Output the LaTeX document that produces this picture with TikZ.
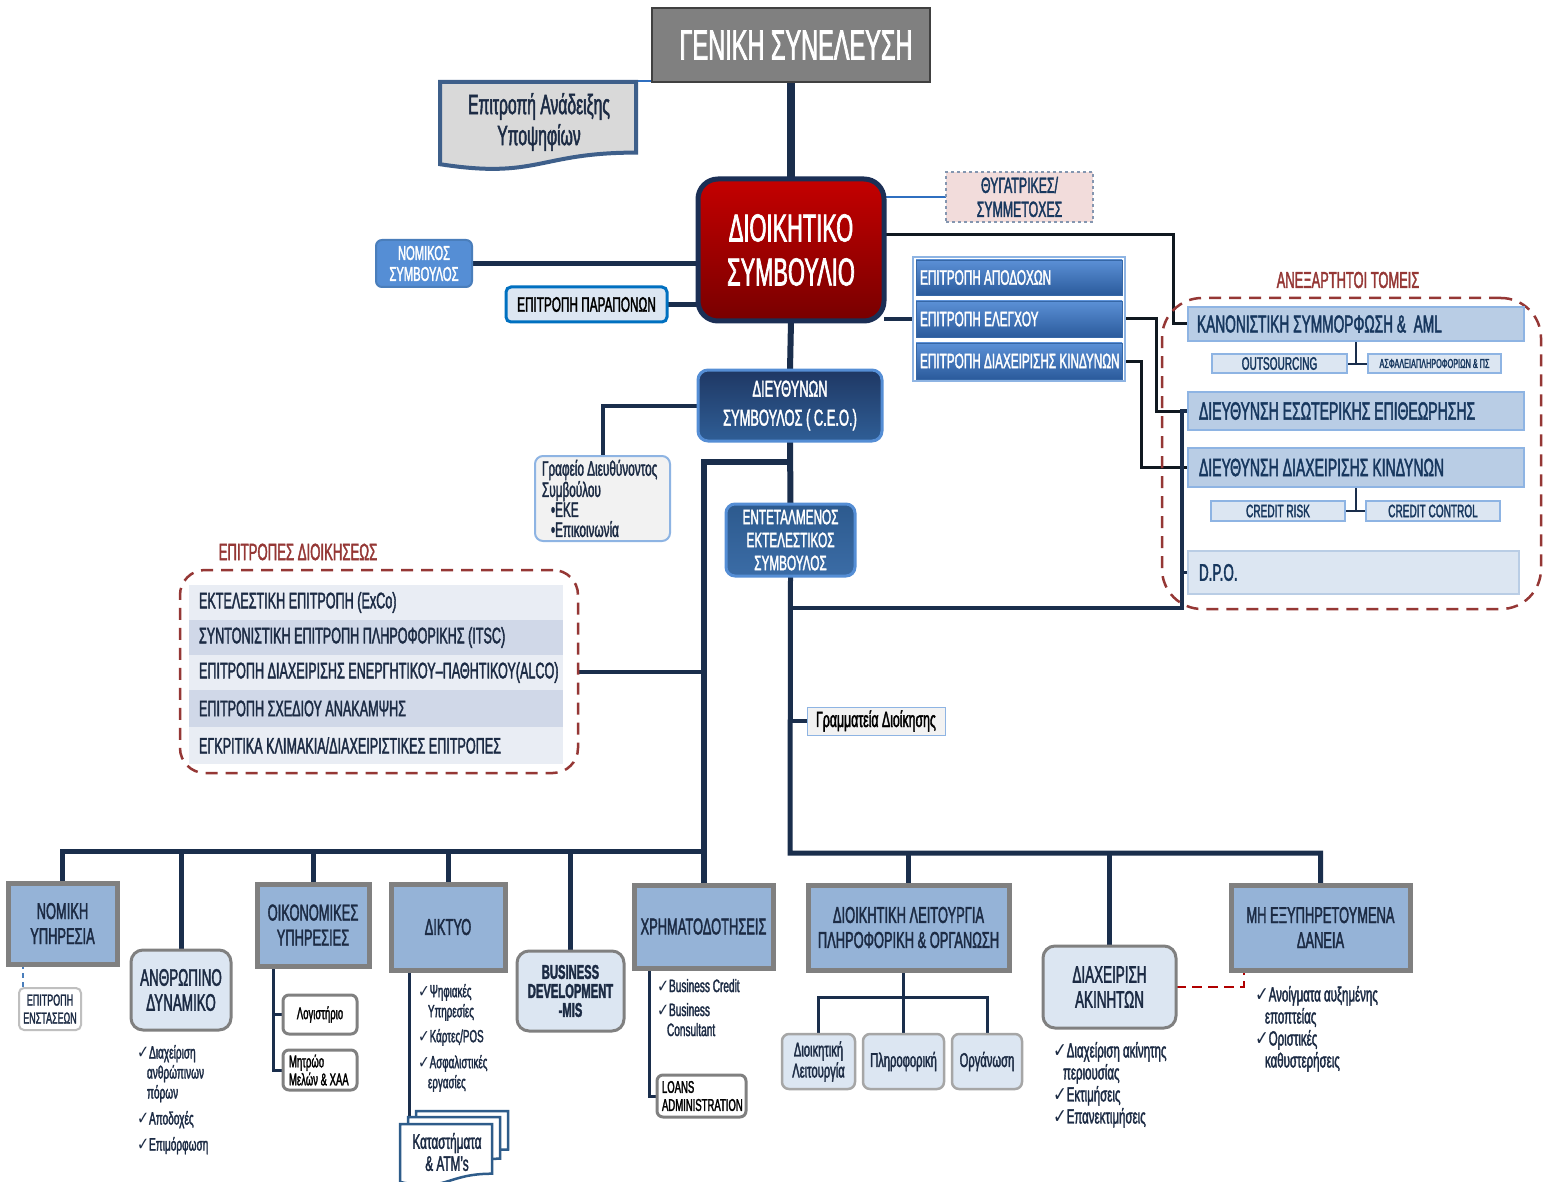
\documentclass[tikz,border=0pt]{standalone}
\usepackage{fontspec}
\setmainfont[FakeStretch=0.56, FakeBold=1.7]{Liberation Sans}
\newfontfamily\chkf[FakeStretch=0.8]{DejaVu Sans}
\usetikzlibrary{calc}
\pgfdeclarelayer{bg}
\pgfsetlayers{bg,main}
\definecolor{navy}{HTML}{1A2E4C}
\definecolor{blk}{HTML}{101820}
\definecolor{txtnavy}{HTML}{1C2B44}
\definecolor{rtext}{HTML}{17375E}
\definecolor{darkred}{HTML}{953735}
\newcommand\fs[2]{\fontsize{#1}{#2}\selectfont}
\newcommand\ck{{\chkf ✓}}
\newcommand\obx[7]{%
 \pgfmathsetmacro\bxw{#5-#3}\pgfmathsetmacro\bxh{#6-#4}%
 \pgfmathsetmacro\bxx{(#3+#5)/2}\pgfmathsetmacro\bxy{(#4+#6)/2}%
 \node[#2, minimum width=\bxw pt, minimum height=\bxh pt] (#1) at (\bxx,\bxy) {#7};}
\newcommand\obxl[8]{%
 \pgfmathsetmacro\bxw{#5-#3}\pgfmathsetmacro\bxh{#6-#4}%
 \pgfmathsetmacro\bxx{(#3+#5)/2}\pgfmathsetmacro\bxy{(#4+#6)/2}%
 \pgfmathsetmacro\bxt{#5-#3-2*#7}%
 \node[#2, minimum width=\bxw pt, minimum height=\bxh pt] (#1) at (\bxx,\bxy) {\parbox{\bxt pt}{#8}};}
\begin{document}
\begin{tikzpicture}[x=1pt,y=-1pt,
 every node/.style={inner sep=0pt, outer sep=0pt},
 ln/.style={draw=navy, line width=#1}, ln/.default=5pt,
 bk/.style={draw=blk, line width=#1}, bk/.default=3pt,
 thinblue/.style={draw=HTMLblue, line width=1.6pt},
 gsbox/.style={fill=black!50, draw=black!75, line width=1.2pt, text=white, font=\fs{42}{46}},
 dsbox/.style={top color=dsred1, bottom color=dsred2, draw=dsborder, line width=5pt, rounded corners=20pt, text=white, align=center, font=\fs{39}{44}},
 thybox/.style={fill=thyfill, draw=thydraw, dashed, line width=1.3pt, text=rtext, align=center, font=\fs{22}{24}},
 nomkbox/.style={fill=nomkfill, draw=nomkdraw, line width=2pt, rounded corners=6pt, text=white, align=center, font=\fs{20}{21}},
 parbox/.style={fill=lblue, draw=parblue, line width=3pt, rounded corners=5pt, text=black, font=\fs{21}{24}},
 stackframe/.style={fill=white, draw=midblue, line width=1.5pt},
 combox/.style={top color=comtop, bottom color=combot, draw=comdraw, line width=0.8pt, text=white, font=\fs{21}{22}},
 redlabel/.style={text=darkred, font=\fs{23}{25}},
 redbox/.style={draw=darkred, line width=2.5pt, dash pattern=on 12pt off 8pt, rounded corners=40pt},
 rbox/.style={fill=rfill, draw=midblue, line width=2pt, text=rtext, font=\fs{24.5}{26}},
 sbox/.style={fill=lblue, draw=midblue, line width=1.5pt, text=rtext, font=\fs{18}{20}},
 dbox/.style={fill=lblue, draw=rfill, line width=2.5pt, text=rtext, font=\fs{24}{26}},
 ceobox/.style={top color=ceotop, bottom color=ceobot, draw=nomkfill, line width=3pt, rounded corners=10pt, text=white, align=center, font=\fs{23}{29}},
 entbox/.style={top color=enttop, bottom color=entbot, draw=nomkfill, line width=3pt, rounded corners=9pt, text=white, align=center, font=\fs{21}{23}},
 grafbox/.style={fill=black!5, draw=midblue, line width=2pt, rounded corners=8pt, text=txtnavy, font=\fs{21}{20}},
 grambox/.style={fill=black!5, draw=midblue, line width=1pt, text=black, font=\fs{22}{22}},
 rowA/.style={fill=rowa, text=txtnavy, font=\fs{22.5}{24}},
 rowB/.style={fill=rowb, text=txtnavy, font=\fs{22.5}{24}},
 mainbox/.style={fill=mfill, draw=black!50, line width=5pt, text=txtnavy, align=center, font=\fs{23}{25}},
 lightbox/.style={fill=lblue, draw=black!50, line width=3pt, rounded corners=12pt, text=txtnavy, align=center, font=\fs{24}{25}},
 subw/.style={fill=white, draw=black!50, line width=3pt, rounded corners=6pt, text=black, font=\fs{17}{18}},
 subl/.style={fill=lblue, draw=black!35, line width=2.5pt, rounded corners=7pt, text=txtnavy, align=center, font=\fs{20}{21}},
 enbox/.style={fill=white, draw=black!25, line width=2pt, rounded corners=5pt, text=txtnavy, align=center, font=\fs{16}{18}},
 bul/.style={text=txtnavy, align=left, anchor=north west, font=\fs{18}{20}},
 docline/.style={draw=docblue, line width=4pt},
 katline/.style={draw=katblue, line width=2.5pt, fill=white},
]
\definecolor{HTMLblue}{HTML}{2F6FC0}
\definecolor{dsred1}{HTML}{C40000}
\definecolor{dsred2}{HTML}{780000}
\definecolor{dsborder}{HTML}{1B2F55}
\definecolor{thyfill}{HTML}{F2DCDB}
\definecolor{thydraw}{HTML}{8496B0}
\definecolor{nomkfill}{HTML}{558ED5}
\definecolor{nomkdraw}{HTML}{4A7EBB}
\definecolor{lblue}{HTML}{DCE6F2}
\definecolor{parblue}{HTML}{0070C0}
\definecolor{midblue}{HTML}{8EB4E3}
\definecolor{comtop}{HTML}{5B90D6}
\definecolor{combot}{HTML}{2B5B9C}
\definecolor{comdraw}{HTML}{3667A6}
\definecolor{rfill}{HTML}{B9CDE5}
\definecolor{ceotop}{HTML}{1F3864}
\definecolor{ceobot}{HTML}{2F5E96}
\definecolor{enttop}{HTML}{2D5A8E}
\definecolor{entbot}{HTML}{3B6CA6}
\definecolor{rowa}{HTML}{E9EDF4}
\definecolor{rowb}{HTML}{D0D8E8}
\definecolor{mfill}{HTML}{95B3D7}
\definecolor{docblue}{HTML}{3E5F8A}
\definecolor{docgray}{HTML}{D9D9D9}
\definecolor{katblue}{HTML}{2E5C8A}
\definecolor{redd}{HTML}{B00000}

\useasboundingbox (0,0) rectangle (1545,1182);

% ---------- top ----------
\obx{gs}{gsbox}{652}{8}{930}{82}{\hspace*{10pt}ΓΕΝΙΚΗ ΣΥΝΕΛΕΥΣΗ}
\draw[docline, fill=docgray] (440,82) -- (636,82) -- (636,152.6) .. controls (538,152.6) and (538,179.4) .. (440,164.2) -- cycle;
\node[font=\fs{28}{31}, align=center, text=txtnavy] (anad) at (539,122) {Επιτροπή Ανάδειξης\\Υποψηφίων};
\coordinate (anadtr) at (636,81);

\obx{ds}{dsbox}{698}{179}{884}{321}{ΔΙΟΙΚΗΤΙΚΟ\\ΣΥΜΒΟΥΛΙΟ}
\obx{thy}{thybox}{946}{172}{1093}{222}{ΘΥΓΑΤΡΙΚΕΣ/\\ΣΥΜΜΕΤΟΧΕΣ}
\obx{nomk}{nomkbox}{376}{240}{472}{287}{ΝΟΜΙΚΟΣ\\ΣΥΜΒΟΥΛΟΣ}
\obx{par}{parbox}{506}{287}{667}{322}{ΕΠΙΤΡΟΠΗ ΠΑΡΑΠΟΝΩΝ}

\obx{cst}{stackframe}{913}{257}{1125}{381}{}
\obxl{c1}{combox}{916}{260}{1122}{295}{4}{\mbox{ΕΠΙΤΡΟΠΗ ΑΠΟΔΟΧΩΝ}}
\obxl{c2}{combox}{916}{301}{1122}{337}{4}{\mbox{ΕΠΙΤΡΟΠΗ ΕΛΕΓΧΟΥ}}
\obxl{c3}{combox}{916}{343}{1122}{379}{4}{\mbox{ΕΠΙΤΡΟΠΗ ΔΙΑΧΕΙΡΙΣΗΣ ΚΙΝΔΥΝΩΝ}}

% ---------- independent units ----------
\node[redlabel] (anex) at (1348,280) {ΑΝΕΞΑΡΤΗΤΟΙ ΤΟΜΕΙΣ};
\obx{indep}{redbox}{1162}{298}{1541}{609}{}
\obxl{kan}{rbox}{1188}{307}{1524}{341}{9}{\mbox{ΚΑΝΟΝΙΣΤΙΚΗ ΣΥΜΜΟΡΦΩΣΗ \& \ AML}}
\obx{out}{sbox}{1212}{354}{1347}{373}{OUTSOURCING}
\obx{asf}{sbox, font=\fs{13}{14}}{1368}{354}{1501}{373}{ΑΣΦΑΛΕΙΑΠΛΗΡΟΦΟΡΙΩΝ \& ΠΣ}
\obxl{eso}{rbox, font=\fs{25}{26}}{1188}{392}{1524}{430}{11}{\mbox{ΔΙΕΥΘΥΝΣΗ ΕΣΩΤΕΡΙΚΗΣ ΕΠΙΘΕΩΡΗΣΗΣ}}
\obxl{kin}{rbox, font=\fs{25}{26}}{1188}{448}{1524}{487}{11}{\mbox{ΔΙΕΥΘΥΝΣΗ ΔΙΑΧΕΙΡΙΣΗΣ ΚΙΝΔΥΝΩΝ}}
\obx{crr}{sbox}{1211}{501}{1345}{521}{CREDIT RISK}
\obx{crc}{sbox}{1366}{501}{1500}{521}{CREDIT CONTROL}
\obxl{dpo}{dbox}{1188}{551}{1519}{594}{11}{D.P.O.}

% ---------- CEO level ----------
\obx{ceo}{ceobox}{698}{370}{882}{441}{ΔΙΕΥΘΥΝΩΝ\\ΣΥΜΒΟΥΛΟΣ ( C.E.O.)}
\obxl{graf}{grafbox}{535}{456}{670}{541}{7}{\mbox{Γραφείο Διευθύνοντος}\\Συμβούλου\\\hspace*{9pt}•ΕΚΕ\\\hspace*{9pt}•Επικοινωνία}
\obx{ent}{entbox}{726}{504}{855}{576}{ΕΝΤΕΤΑΛΜΕΝΟΣ\\ΕΚΤΕΛΕΣΤΙΚΟΣ\\ΣΥΜΒΟΥΛΟΣ}
\obx{gram}{grambox}{807}{707}{945}{735}{Γραμματεία Διοίκησης}

% ---------- management committees ----------
\node[redlabel, font=\fs{23.5}{25}] (epdl) at (298,552) {ΕΠΙΤΡΟΠΕΣ ΔΙΟΙΚΗΣΕΩΣ};
\obx{epd}{redbox, rounded corners=25pt}{180}{570}{578}{773}{}
\obxl{r1}{rowA}{189}{585}{563}{620}{10}{\mbox{ΕΚΤΕΛΕΣΤΙΚΗ ΕΠΙΤΡΟΠΗ (ExCo)}}
\obxl{r2}{rowB}{189}{620}{563}{655}{10}{\mbox{ΣΥΝΤΟΝΙΣΤΙΚΗ ΕΠΙΤΡΟΠΗ ΠΛΗΡΟΦΟΡΙΚΗΣ (ITSC)}}
\obxl{r3}{rowA}{189}{655}{563}{690}{10}{\mbox{ΕΠΙΤΡΟΠΗ ΔΙΑΧΕΙΡΙΣΗΣ ΕΝΕΡΓΗΤΙΚΟΥ–ΠΑΘΗΤΙΚΟΥ(ALCO)}}
\obxl{r4}{rowB}{189}{690}{563}{727}{10}{\mbox{ΕΠΙΤΡΟΠΗ ΣΧΕΔΙΟΥ ΑΝΑΚΑΜΨΗΣ}}
\obxl{r5}{rowA}{189}{727}{563}{764}{10}{\mbox{ΕΓΚΡΙΤΙΚΑ ΚΛΙΜΑΚΙΑ/ΔΙΑΧΕΙΡΙΣΤΙΚΕΣ ΕΠΙΤΡΟΠΕΣ}}

% ---------- bottom row ----------
\obx{nomy}{mainbox}{8}{883}{117}{964}{ΝΟΜΙΚΗ\\ΥΠΗΡΕΣΙΑ}
\obx{ens}{enbox}{19}{988}{81}{1030}{ΕΠΙΤΡΟΠΗ\\ΕΝΣΤΑΣΕΩΝ}
\obx{anth}{lightbox}{131}{950}{231}{1030}{ΑΝΘΡΩΠΙΝΟ\\ΔΥΝΑΜΙΚΟ}
\node[bul] (anthb) at (137,1045) {\ck Διαχείριση\\\hspace*{10pt}ανθρώπινων\\\hspace*{10pt}πόρων\\[6pt]\ck Αποδοχές\\[6pt]\ck Επιμόρφωση};
\obx{oik}{mainbox}{257}{884}{369}{966}{ΟΙΚΟΝΟΜΙΚΕΣ\\ΥΠΗΡΕΣΙΕΣ}
\obx{logi}{subw}{283}{995}{357}{1034}{Λογιστήριο}
\obxl{mitr}{subw}{283}{1050}{357}{1090}{6}{Μητρώο\\\mbox{Μελών \& ΧΑΑ}}
\obx{dik}{mainbox}{391}{884}{505}{970}{ΔΙΚΤΥΟ}
\node[bul, font=\fs{17.5}{20}] (dikb) at (418,984) {\ck Ψηφιακές\\\hspace*{10pt}Υπηρεσίες\\[5pt]\ck Κάρτες/POS\\[6pt]\ck Ασφαλιστικές\\\hspace*{10pt}εργασίες};
\draw[katline] (416,1111) -- (508,1111) -- (508,1149.5) .. controls (462,1149.5) and (462,1164.1) .. (416,1155.8) -- cycle;
\draw[katline] (408,1117) -- (500,1117) -- (500,1158.7) .. controls (454,1158.7) and (454,1174.6) .. (408,1165.6) -- cycle;
\draw[katline] (400,1124) -- (492,1124) -- (492,1173.7) .. controls (446,1173.7) and (446,1192.6) .. (400,1181.9) -- cycle;
\node[text=txtnavy, align=center, font=\fs{21}{22}] (kat) at (447,1152) {Καταστήματα\\\& ATM’s};
\coordinate (katf) at (409,1124);
\obx{bdev}{lightbox, font=\bfseries\fs{20}{19}}{517}{951}{624}{1031}{BUSINESS\\DEVELOPMENT\\-MIS}
\obx{xr}{mainbox}{634}{885}{773}{968}{ΧΡΗΜΑΤΟΔΟΤΗΣΕΙΣ}
\node[bul, font=\fs{18}{20}] (xrb) at (657,979) {\ck Business Credit\\[4pt]\ck Business\\\hspace*{10pt}Consultant};
\obxl{loans}{subw}{657}{1075}{746}{1117}{5}{LOANS\\\mbox{ADMINISTRATION}}
\obx{diol}{mainbox}{808}{885}{1009}{970}{ΔΙΟΙΚΗΤΙΚΗ ΛΕΙΤΟΥΡΓΙΑ\\ΠΛΗΡΟΦΟΡΙΚΗ \& ΟΡΓΑΝΩΣΗ}
\obx{dl}{subl}{782}{1034}{855}{1089}{Διοικητική\\Λειτουργία}
\obx{pl}{subl}{863}{1034}{944}{1089}{Πληροφορική}
\obx{og}{subl}{952}{1034}{1022}{1089}{Οργάνωση}
\obx{akin}{lightbox}{1043}{946}{1176}{1028}{ΔΙΑΧΕΙΡΙΣΗ\\ΑΚΙΝΗΤΩΝ}
\node[bul, font=\fs{20.5}{22}] (akinb) at (1053,1042) {\ck Διαχείριση ακίνητης\\\hspace*{10pt}περιουσίας\\\ck Εκτιμήσεις\\\ck Επανεκτιμήσεις};
\obx{mh}{mainbox}{1231}{885}{1410}{970}{ΜΗ ΕΞΥΠΗΡΕΤΟΥΜΕΝΑ\\ΔΑΝΕΙΑ}
\node[bul, font=\fs{20.5}{22}] (mhb) at (1255,986) {\ck Ανοίγματα αυξημένης\\\hspace*{10pt}εποπτείας\\\ck Οριστικές\\\hspace*{10pt}καθυστερήσεις};

% ---------- connectors ----------
\begin{pgfonlayer}{bg}
\fill[white] (0,0) rectangle (1545,1182);
\draw[ln=8pt] (gs.south) -- (ds.north);
\draw[ln=6pt] (ds.south) -- (ceo.north);
\draw[ln=6pt] (ceo.south) -- (ent.north);
\coordinate (busR) at (790,853);
\draw[ln=5pt] (ent.south) -- (busR) -| (mh.north);
\draw[ln=5pt] (diol.north) -- (diol.north |- busR);
\draw[ln=5pt] (akin.north) -- (akin.north |- busR);
\coordinate (j1) at (790,462);
\draw[ln=6pt] (j1) -| (xr.north);
\coordinate (busL) at (703.5,851);
\draw[ln=5pt] (busL) -| (nomy.north);
\foreach \n in {anth,oik,dik,bdev} \draw[ln=5pt] (\n.north) -- (\n.north |- busL);
\draw[ln=4pt] (epd.east) -- (epd.east -| xr.north);
\draw[ln=5pt] (nomk.east) -- (nomk.east -| ds.west);
\draw[ln=5pt] (par.east) -- (par.east -| ds.west);
\draw[thinblue] (thy.west) -- (thy.west -| ds.east);
\draw[thinblue] (anadtr) -- (anadtr -| gs.west);
\coordinate (dsr) at (884,235);
\draw[bk=3pt] (kan.west) -- ++(-15,0) |- (dsr);
\draw[ln=4pt] (cst.west |- c2.west) -- (c2.west -| ds.east);
\draw[bk=3pt] (c2.east) -| ([xshift=-32pt]eso.west) -- (eso.west);
\draw[bk=3pt] (c3.east) -| ([xshift=-47pt]kin.west) -- (kin.west);
\coordinate (m608) at (790,608);
\draw[ln=3.5pt] (eso.west) -- ([xshift=-6pt]eso.west) |- (m608);
\draw[ln=3.5pt] (dpo.west) -- ([xshift=-7pt]dpo.west);
\draw[ln=2pt] (kan.south) -- (kan.south |- out.east);
\draw[ln=2pt] (out.east) -- (asf.west);
\draw[ln=2pt] (kin.south) -- (kin.south |- crr.east);
\draw[ln=2pt] (crr.east) -- (crc.west);
\draw[ln=4pt] (ceo.west) -| (graf.north);
\draw[ln=4pt] (gram.west) -- (gram.west -| ent.south);
\draw[draw=nomkdraw, line width=1.5pt, dash pattern=on 5pt off 4pt] ([xshift=15pt]nomy.south west) -- ([xshift=15pt]nomy.south west |- ens.north);
\draw[ln=3pt] ([xshift=16pt]oik.south west) |- (mitr.west);
\draw[ln=3pt] (logi.west) -- ([xshift=-10pt]logi.west);
\draw[ln=3pt] ([xshift=18pt]dik.south west) -- (katf);
\draw[ln=3pt] ([xshift=15pt]xr.south west) |- (loans.west);
\draw[ln=3pt] (pl.north) -- (pl.north |- diol.south);
\coordinate (bar) at (0,997);
\draw[ln=3pt] (dl.north) -- (dl.north |- bar) -- (og.north |- bar) -- (og.north);
\draw[draw=redd, line width=2.5pt, dash pattern=on 10pt off 6pt] (akin.east) -| ([xshift=13pt]mh.south west);
\end{pgfonlayer}
\end{tikzpicture}
\end{document}
